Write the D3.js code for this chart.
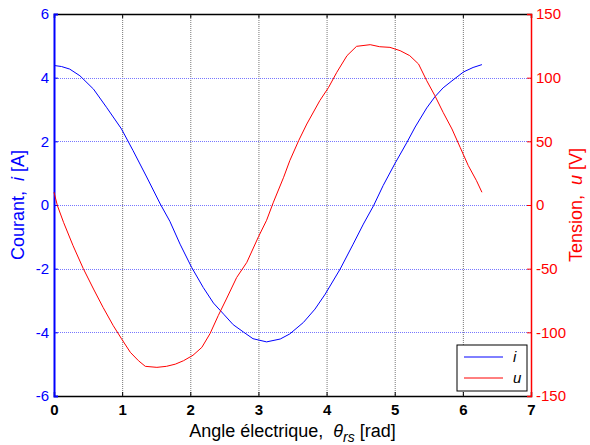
<!DOCTYPE html>
<html><head><meta charset="utf-8">
<script src="https://cdn.jsdelivr.net/npm/d3@7"></script>
<style>body{margin:0;background:#fff}svg{display:block}text{font-family:Arial,"Liberation Sans",sans-serif}</style>
</head><body>
<script>
const iTheta = [0.01,0.11,0.23,0.38,0.58,0.77,0.99,1.16,1.36,1.56,1.70,1.85,2.02,2.19,2.34,2.49,2.63,2.78,2.92,3.12,3.32,3.46,3.66,3.83,3.98,4.20,4.39,4.54,4.69,4.83,5.00,5.18,5.30,5.47,5.59,5.71,5.84,6.01,6.15,6.28];
const iValues = [4.38,4.35,4.27,4.06,3.64,3.07,2.39,1.71,0.88,0.03,-0.51,-1.23,-1.96,-2.59,-3.08,-3.43,-3.76,-3.99,-4.20,-4.30,-4.21,-4.05,-3.69,-3.27,-2.80,-2.01,-1.23,-0.60,-0.02,0.61,1.29,1.97,2.45,3.05,3.40,3.68,3.90,4.18,4.32,4.41];
const uTheta = [0.0,0.05,0.14,0.28,0.43,0.58,0.72,0.87,0.99,1.12,1.24,1.34,1.51,1.65,1.78,1.90,2.04,2.17,2.29,2.41,2.53,2.68,2.83,3.00,3.12,3.22,3.37,3.46,3.59,3.71,3.90,4.03,4.15,4.30,4.44,4.64,4.78,4.93,5.08,5.22,5.35,5.47,5.59,5.71,5.84,5.96,6.08,6.20,6.28];
const uValues = [10,-0.5,-13.6,-32,-50,-66,-80.4,-94.8,-105,-115.7,-122.3,-126.7,-127.5,-126.7,-125,-122.3,-118,-111.8,-101,-86.9,-73.8,-57,-45,-25,-12,2.2,21.8,34.8,50.5,63.6,81.9,92.4,104.2,117.3,124.6,125.9,124.3,123.8,121.2,117.3,110.7,97.6,85.8,72.8,59.7,45.3,30.9,19.1,10];
const xTicks = [0,1,2,3,4,5,6,7];
const iTicks = [-6,-4,-2,0,2,4,6];
const uTicks = [-150,-100,-50,0,50,100,150];

const W=590,H=445, L=54,R=531,T=14,B=396;
const svg=d3.select("body").append("svg").attr("width",W).attr("height",H);
const x=d3.scaleLinear().domain([0,7]).range([L,R]);
const yI=d3.scaleLinear().domain([-6,6]).range([B,T]);
const yU=d3.scaleLinear().domain([-150,150]).range([B,T]);
const blue="#0000ff", red="#ff0000";
const fmt=d=>String(d);

// grid
svg.append("g").selectAll("line").data(xTicks.slice(1,-1)).join("line")
  .attr("x1",d=>x(d)+0.5).attr("x2",d=>x(d)+0.5).attr("y1",T).attr("y2",B)
  .attr("stroke","#777").attr("stroke-width",1).attr("stroke-dasharray","1,1");
svg.append("g").selectAll("line").data(iTicks.slice(1,-1)).join("line")
  .attr("y1",d=>Math.round(yI(d))+0.5).attr("y2",d=>Math.round(yI(d))+0.5).attr("x1",L).attr("x2",R)
  .attr("stroke","#7777ff").attr("stroke-width",1).attr("stroke-dasharray","1,1");

// axes
const tick=4;
const gxB=svg.append("g").attr("transform",`translate(0,${B})`)
  .call(d3.axisBottom(x).tickValues(xTicks).tickSize(-tick).tickPadding(8).tickFormat(fmt));
const gxT=svg.append("g").attr("transform",`translate(0,${T})`)
  .call(d3.axisTop(x).tickValues(xTicks).tickSize(-tick).tickFormat(""));
[gxB,gxT].forEach(g=>{g.select(".domain").attr("stroke","#000").attr("stroke-width",1.5);g.selectAll(".tick line").attr("stroke","#000");});
gxB.selectAll(".tick text").attr("fill","#000").attr("font-size",15).attr("font-weight","bold").attr("font-family","Arial, 'Liberation Sans', sans-serif").attr("dy","0.75em");

const gyL=svg.append("g").attr("transform",`translate(${L},0)`)
  .call(d3.axisLeft(yI).tickValues(iTicks).tickSize(-tick).tickPadding(5).tickFormat(fmt));
gyL.select(".domain").attr("stroke",blue).attr("stroke-width",2);
gyL.selectAll(".tick line").attr("stroke",blue);
gyL.selectAll(".tick text").attr("fill",blue).attr("font-size",15).attr("font-family","Arial, 'Liberation Sans', sans-serif");

const gyR=svg.append("g").attr("transform",`translate(${R},0)`)
  .call(d3.axisRight(yU).tickValues(uTicks).tickSize(-tick).tickPadding(5).tickFormat(fmt));
gyR.select(".domain").attr("stroke",red).attr("stroke-width",1.5);
gyR.selectAll(".tick line").attr("stroke",red);
gyR.selectAll(".tick text").attr("fill",red).attr("font-size",15).attr("font-family","Arial, 'Liberation Sans', sans-serif");

// lines
const lineI=d3.line().x((d,k)=>x(iTheta[k])).y(d=>yI(d));
const lineU=d3.line().x((d,k)=>x(uTheta[k])).y(d=>yU(d));
svg.append("path").datum(iValues).attr("d",lineI).attr("fill","none").attr("stroke",blue).attr("stroke-width",1);
svg.append("path").datum(uValues).attr("d",lineU).attr("fill","none").attr("stroke",red).attr("stroke-width",1);

// labels
const yl=svg.append("text").attr("transform",`translate(24,${(T+B)/2}) rotate(-90)`).attr("text-anchor","middle")
  .attr("fill",blue).attr("font-size",18);
yl.append("tspan").text("Courant,\u00a0\u00a0");
yl.append("tspan").attr("font-style","italic").text("i");
yl.append("tspan").text("\u00a0[A]");
const yr=svg.append("text").attr("transform",`translate(582,${(T+B)/2}) rotate(-90)`).attr("text-anchor","middle")
  .attr("fill",red).attr("font-size",18);
yr.append("tspan").text("Tension,\u00a0\u00a0");
yr.append("tspan").attr("font-style","italic").text("u");
yr.append("tspan").text("\u00a0[V]");
const xl=svg.append("text").attr("x",(L+R)/2).attr("y",437).attr("text-anchor","middle").attr("fill","#000").attr("font-size",18);
xl.append("tspan").text("Angle électrique,\u00a0\u00a0");
xl.append("tspan").attr("font-style","italic").text("θ");
xl.append("tspan").attr("font-style","italic").attr("font-size",14).attr("dy",5).text("rs");
xl.append("tspan").attr("dy",-5).text("\u00a0[rad]");

// legend
const lg=svg.append("g");
lg.append("rect").attr("x",457).attr("y",345).attr("width",70).attr("height",46).attr("fill","#fff").attr("stroke","#000").attr("stroke-width",1);
const leg=[{n:"i",c:blue,y:357},{n:"u",c:red,y:378}];
leg.forEach(d=>{
  lg.append("line").attr("x1",464).attr("x2",503).attr("y1",d.y).attr("y2",d.y).attr("stroke",d.c).attr("stroke-width",1);
  lg.append("text").attr("x",513).attr("y",d.y+5).attr("font-size",15).attr("font-style","italic").attr("fill","#000").text(d.n);
});
</script>
</body></html>
